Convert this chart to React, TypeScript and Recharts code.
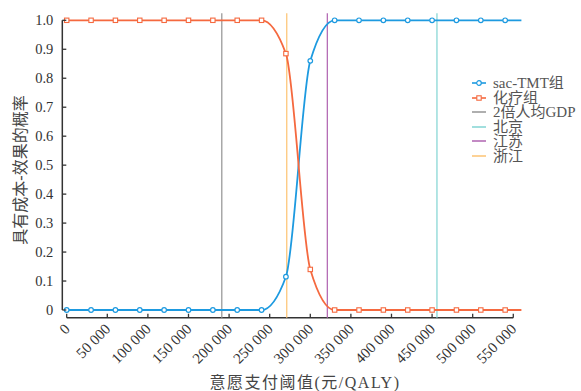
import React from 'react'
import { LineChart, Line, XAxis, YAxis, ReferenceLine } from 'recharts'

// willingness-to-pay thresholds (元/QALY) and probability of being cost-effective
const wtp = [
  0, 30000, 60000, 90000, 120000, 150000, 180000, 210000, 240000, 270000,
  300000, 330000, 360000, 390000, 420000, 450000, 480000, 510000, 540000, 560000,
]
const sacTmt = [0, 0, 0, 0, 0, 0, 0, 0, 0, 0.115, 0.86, 1, 1, 1, 1, 1, 1, 1, 1, 1]
const chemo = [1, 1, 1, 1, 1, 1, 1, 1, 1, 0.885, 0.14, 0, 0, 0, 0, 0, 0, 0, 0, 0]

const xTicks = [0, 50000, 100000, 150000, 200000, 250000, 300000, 350000, 400000, 450000, 500000, 550000]
const yTicks = [0, 0.1, 0.2, 0.3, 0.4, 0.5, 0.6, 0.7, 0.8, 0.9, 1]

const thresholdNames = ['2倍人均GDP', '北京', '江苏', '浙江']
const thresholdValues = [191000, 456000, 321000, 271000]
const thresholdColors = ['#9b9b9b', '#8ad7d6', '#b56db6', '#fdc77c']

const BLUE = '#1d9ae0'
const RED = '#f5693f'
const AXIS = '#333333'
const FONT = "'Liberation Serif', 'Noto Sans CJK SC', serif"

const data = wtp.map((x, i) => ({ x, sac: sacTmt[i], chemo: chemo[i] }))

const fmtX = (v: number) => String(v).replace(/\B(?=(\d{3})+(?!\d))/g, ' ')
const fmtY = (v: number) => (v === 0 ? '0' : v.toFixed(1))

function XTick(props: any) {
  const { x, y, payload } = props
  return (
    <g>
      <line x1={x} x2={x} y1={y + 3.7} y2={y + 7.7} stroke={AXIS} strokeWidth={1.3} />
      <text
        transform={`translate(${x + 4},${y + 20}) rotate(-45)`}
        textAnchor="end"
        fontSize={15}
        fontFamily={FONT}
        fill={AXIS}
      >
        {fmtX(payload.value)}
      </text>
    </g>
  )
}

function YTick(props: any) {
  const { x, y, payload } = props
  return (
    <g>
      <line x1={x - 4.4} x2={x - 0.4} y1={y} y2={y} stroke={AXIS} strokeWidth={1.3} />
      <text x={x - 13.4} y={y} dy="0.35em" textAnchor="end" fontSize={14.5} fontFamily={FONT} fill={AXIS}>
        {fmtY(payload.value)}
      </text>
    </g>
  )
}

function CircleDot(props: any) {
  const { cx, cy, index } = props
  if (index === wtp.length - 1) return <g key={`c${index}`} />
  return <circle key={`c${index}`} cx={cx} cy={cy} r={2.3} fill="#fff" stroke={BLUE} strokeWidth={1.2} />
}

function SquareDot(props: any) {
  const { cx, cy, index } = props
  if (index === wtp.length - 1) return <g key={`s${index}`} />
  return <rect key={`s${index}`} x={cx - 2.2} y={cy - 2.2} width={4.4} height={4.4} fill="#fff" stroke={RED} strokeWidth={1.1} />
}

function LegendBox() {
  const rows = [
    { name: 'sac-TMT组', color: BLUE, mark: 'circle' },
    { name: '化疗组', color: RED, mark: 'square' },
    ...thresholdNames.map((n, i) => ({ name: n, color: thresholdColors[i], mark: 'none' })),
  ]
  return (
    <div style={{ position: 'absolute', left: 471, top: 76, fontFamily: FONT, fontSize: 14, color: '#555' }}>
      {rows.map((r) => (
        <div key={r.name} style={{ height: 14.5, lineHeight: '14.5px', display: 'flex', alignItems: 'center', whiteSpace: 'nowrap' }}>
          <svg width={16} height={14} style={{ marginRight: 6, flexShrink: 0 }}>
            <line x1={1} x2={15} y1={7} y2={7} stroke={r.color} strokeWidth={1.6} />
            {r.mark === 'circle' && <circle cx={8} cy={7} r={2.3} fill="#fff" stroke={r.color} strokeWidth={1.2} />}
            {r.mark === 'square' && <rect x={5.8} y={4.8} width={4.4} height={4.4} fill="#fff" stroke={r.color} strokeWidth={1.1} />}
          </svg>
          <span style={{ fontSize: 15 }}>{r.name}</span>
        </div>
      ))}
    </div>
  )
}

export default function App() {
  return (
    <div style={{ position: 'absolute', left: 0, top: 0, width: 581, height: 391, background: '#fff' }}>
      <LineChart width={581} height={391} data={data} margin={{ top: 20.3, right: 59.6, bottom: 0, left: 0 }}>
        <XAxis
          dataKey="x"
          type="number"
          domain={[0, 560000]}
          ticks={xTicks}
          interval={0}
          height={81}
          axisLine={false}
          tickLine={false}
          tickSize={0}
          tickMargin={0}
          tick={<XTick />}
          label={{
            content: () => (
              <text x={305} y={388} textAnchor="middle" fontSize={16} letterSpacing={1.5} fontFamily={FONT} fill="#444">
                意愿支付阈值(元/QALY)
              </text>
            ),
          }}
        />
        <YAxis
          type="number"
          domain={[0, 1]}
          ticks={yTicks}
          interval={0}
          width={66.7}
          axisLine={false}
          tickLine={false}
          tickSize={0}
          tickMargin={0}
          tick={<YTick />}
          label={{
            content: () => (
              <text x={20} y={170} transform="rotate(-90 20 170)" textAnchor="middle" fontSize={16} fontFamily={FONT} fill="#444" dy="0.35em">
                具有成本-效果的概率
              </text>
            ),
          }}
        />
        <ReferenceLine
          segment={[{ x: -5400, y: 0 }, { x: -5400, y: 1 }]}
          ifOverflow="visible"
          stroke={AXIS}
          strokeWidth={1.5}
        />
        <ReferenceLine
          segment={[{ x: 0, y: -0.0266 }, { x: 550000, y: -0.0266 }]}
          ifOverflow="visible"
          stroke={AXIS}
          strokeWidth={1.5}
        />
        {thresholdValues.map((v, i) => (
          <ReferenceLine
            key={thresholdNames[i]}
            segment={[{ x: v, y: -0.0266 }, { x: v, y: 1.024 }]}
            ifOverflow="visible"
            stroke={thresholdColors[i]}
            strokeWidth={1.3}
          />
        ))}
        <Line type="monotone" dataKey="sac" stroke={BLUE} strokeWidth={1.8} dot={<CircleDot />} isAnimationActive={false} />
        <Line type="monotone" dataKey="chemo" stroke={RED} strokeWidth={1.8} dot={<SquareDot />} isAnimationActive={false} />
      </LineChart>
      <LegendBox />
    </div>
  )
}
